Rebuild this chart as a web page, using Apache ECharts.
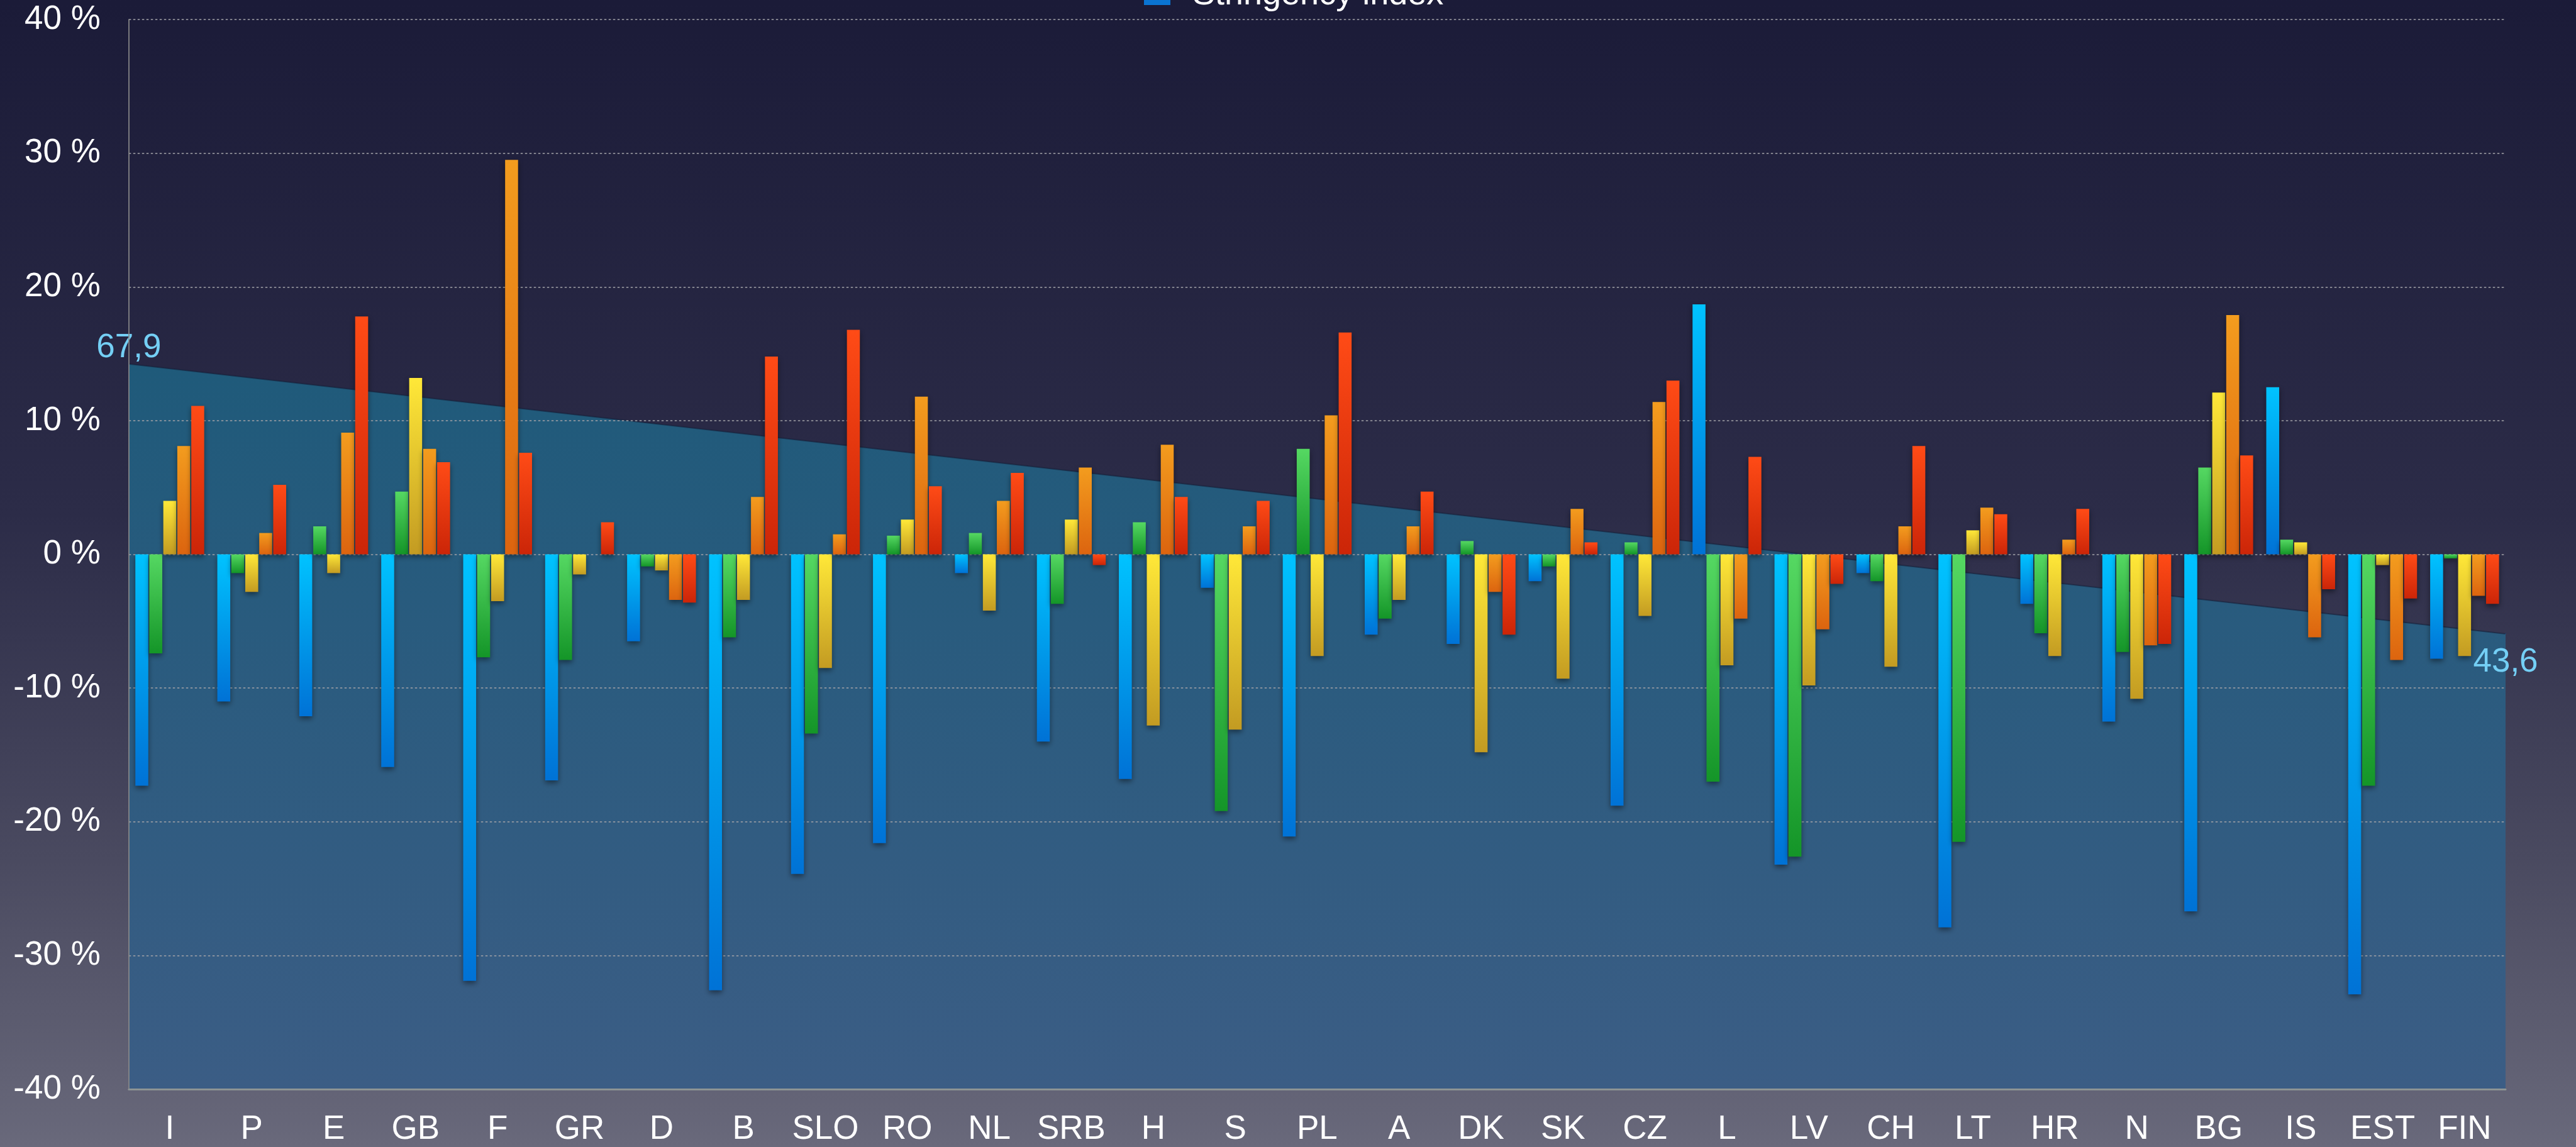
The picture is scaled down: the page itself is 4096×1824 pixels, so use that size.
<!DOCTYPE html>
<html>
<head>
<meta charset="utf-8">
<script src="https://cdn.jsdelivr.net/npm/echarts@6/dist/echarts.min.js"></script>
<style>
html,body{margin:0;padding:0;width:4096px;height:1824px;overflow:hidden;
background:linear-gradient(to bottom,#1b1b38 0%,#2c2c48 45%,#4a4a60 75%,#69697b 100%);}
#chart{width:4096px;height:1824px;}
</style>
</head>
<body>
<div id="chart"></div>
<script>
const categories = ['I','P','E','GB','F','GR','D','B','SLO','RO','NL','SRB','H','S','PL','A','DK','SK','CZ','L','LV','CH','LT','HR','N','BG','IS','EST','FIN'];
const seriesBlue   = [-17.3,-11.0,-12.1,-15.9,-31.9,-16.9,-6.5,-32.6,-23.9,-21.6,-1.4,-14.0,-16.8,-2.5,-21.1,-6.0,-6.7,-2.0,-18.8,18.7,-23.2,-1.4,-27.9,-3.7,-12.5,-26.7,12.5,-32.9,-7.8];
const seriesGreen  = [-7.4,-1.4,2.1,4.7,-7.7,-7.9,-0.9,-6.2,-13.4,1.4,1.6,-3.7,2.4,-19.2,7.9,-4.8,1.0,-0.9,0.9,-17.0,-22.6,-2.0,-21.5,-5.9,-7.3,6.5,1.1,-17.3,-0.3];
const seriesYellow = [4.0,-2.8,-1.4,13.2,-3.5,-1.5,-1.2,-3.4,-8.5,2.6,-4.2,2.6,-12.8,-13.1,-7.6,-3.4,-14.8,-9.3,-4.6,-8.3,-9.8,-8.4,1.8,-7.6,-10.8,12.1,0.9,-0.8,-7.6];
const seriesOrange = [8.1,1.6,9.1,7.9,29.5,null,-3.4,4.3,1.5,11.8,4.0,6.5,8.2,2.1,10.4,2.1,-2.8,3.4,11.4,-4.8,-5.6,2.1,3.5,1.1,-6.8,17.9,-6.2,-7.9,-3.1];
const seriesRed    = [11.1,5.2,17.8,6.9,7.6,2.4,-3.6,14.8,16.8,5.1,6.1,-0.8,4.3,4.0,16.6,4.7,-6.0,0.9,13.0,7.3,-2.2,8.1,3.0,3.4,-6.7,7.4,-2.6,-3.3,-3.7];
const stringency   = [67.9, 43.6];
const stringencyName = 'Stringency index';
const yTicks = {min:-40, max:40, interval:10};

const FONT = 'Liberation Sans, Helvetica, Arial, sans-serif';
const FS = 53;

function grad(top, bottom){
  return new echarts.graphic.LinearGradient(0,0,0,1,[{offset:0,color:top},{offset:1,color:bottom}]);
}
const barDefs = [
  ['Series 1', seriesBlue,   '#00c3ff', '#0072d6'],
  ['Series 2', seriesGreen,  '#55d862', '#149528'],
  ['Series 3', seriesYellow, '#ffe838', '#c39b22'],
  ['Series 4', seriesOrange, '#f39c1e', '#dc640f'],
  ['Series 5', seriesRed,    '#ff4b16', '#cb2508']
];
const barSeries = barDefs.map(d => ({
  name: d[0], type: 'bar', data: d[1], xAxisIndex: 0, yAxisIndex: 0,
  barCategoryGap: '16%', barGap: '8%', z: 3,
  itemStyle: {color: grad(d[2], d[3]), shadowColor: 'rgba(0,0,0,0.45)', shadowBlur: 8, shadowOffsetY: 4}
}));

const fmt = v => String(v).replace('.', ',');
const areaData = stringency.map((v,i) => ({
  value: v,
  label: {position: i === 0 ? 'top' : 'bottom', distance: i === 0 ? -2 : 18}
}));

const chart = echarts.init(document.getElementById('chart'), null, {renderer:'canvas'});
chart.setOption({
  backgroundColor: 'transparent',
  animation: false,
  textStyle: {fontFamily: FONT},
  legend: {
    data: [stringencyName], left: 1814, top: -40, icon: 'rect',
    itemWidth: 42, itemHeight: 32, itemGap: 20,
    textStyle: {color: '#ffffff', fontSize: 54, fontFamily: FONT, padding: [0, 0, 0, 30]}
  },
  grid: {left: 204.8, right: 112, top: 31.1, bottom: 91.9, containLabel: false},
  xAxis: [
    {type: 'category', data: categories, position: 'bottom',
     axisLine: {onZero: false, lineStyle: {color: '#8d9494', width: 3}},
     axisTick: {show: false},
     axisLabel: {color: '#ffffff', fontSize: FS, fontFamily: FONT, margin: 38, interval: 0},
     splitLine: {show: false}, z: 4},
    {type: 'category', data: ['', ''], boundaryGap: false, show: false}
  ],
  yAxis: [
    {type: 'value', min: yTicks.min, max: yTicks.max, interval: yTicks.interval,
     axisLine: {show: true, lineStyle: {color: '#8a8a8a', width: 1.7}},
     axisTick: {show: false},
     axisLabel: {color: '#ffffff', fontSize: FS, fontFamily: FONT, margin: 45, formatter: '{value} %'},
     splitLine: {show: true, lineStyle: {color: '#a3a3a8', width: 1.7, type: [3.5, 3.5]}},
     z: 2},
    {type: 'value', min: 2.6, max: 98.9, show: false, splitLine: {show: false}}
  ],
  series: [
    {
      name: stringencyName, type: 'line', xAxisIndex: 1, yAxisIndex: 1, z: 1,
      data: areaData, symbol: 'circle', symbolSize: 1, showSymbol: true,
      itemStyle: {color: '#0a74d2'},
      lineStyle: {color: 'rgba(20,30,55,0.55)', width: 2},
      areaStyle: {origin: 'start', opacity: 1, color: grad('#1f5a7a', '#3b5d85')},
      label: {show: true, color: '#74cff5', fontSize: FS, fontFamily: FONT, formatter: p => fmt(p.value)},
      emphasis: {disabled: true}
    }
  ].concat(barSeries)
});
</script>
</body>
</html>
